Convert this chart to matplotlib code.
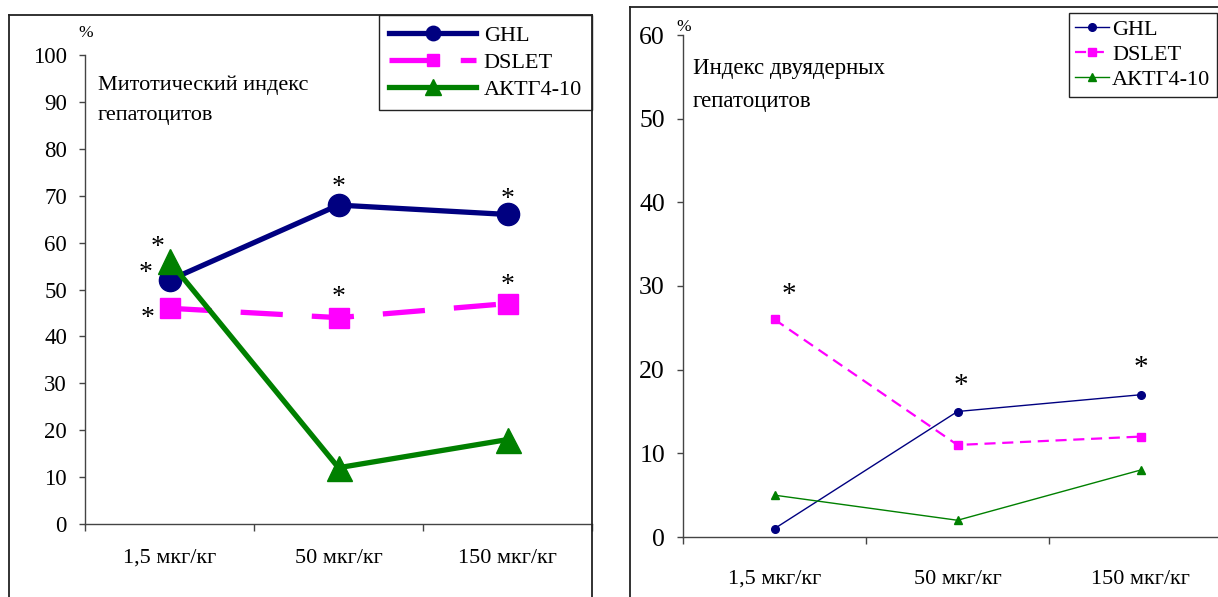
import matplotlib
matplotlib.use('Agg')
import matplotlib.pyplot as plt
from matplotlib.lines import Line2D

plt.rcParams['font.family'] = ['Liberation Serif', 'DejaVu Serif']

# дозы препаратов
doses = ['1,5 мкг/кг', '50 мкг/кг', '150 мкг/кг']
series = ['GHL', 'DSLET', 'АКТГ4-10']
colors = ['#000080', '#FF00FF', '#008000']

# митотический индекс, %
mit_ghl = [52, 68, 66]
mit_dslet = [46, 44, 47]
mit_aktg = [56, 12, 18]

# индекс двуядерных гепатоцитов, %
bin_ghl = [1, 15, 17]
bin_dslet = [26, 11, 12]
bin_aktg = [5, 2, 8]

# звездочки (достоверность): (ряд, индекс дозы)
mit_stars = [('GHL', 0), ('АКТГ4-10', 0), ('DSLET', 0), ('GHL', 1), ('DSLET', 1), ('GHL', 2), ('DSLET', 2)]
bin_stars = [('DSLET', 0), ('GHL', 1), ('GHL', 2)]

W, H = 1218, 597
fig = plt.figure(figsize=(W / 100, H / 100), dpi=100)

def fx(px):
    return px / W

def fy(py):
    return 1 - py / H

# рамки двух диаграмм
def frame(x0, y0, x1, y1):
    for xs, ys in [((x0, x1), (y0, y0)), ((x0, x0), (y0, y1)), ((x1, x1), (y0, y1))]:
        fig.add_artist(Line2D([fx(xs[0]), fx(xs[1])], [fy(ys[0]), fy(ys[1])],
                              transform=fig.transFigure, color='#222222', lw=1.3))

frame(9, 15, 592, 600)
frame(630, 7, 1240, 600)

def setup(ax, ymax, step, xpad, ysize):
    x = list(range(len(doses)))
    ax.set_xlim(-0.5, len(doses) - 0.5)
    ax.set_ylim(0, ymax)
    for s in ['top', 'right']:
        ax.spines[s].set_visible(False)
    for s in ['left', 'bottom']:
        ax.spines[s].set_color('#444444')
        ax.spines[s].set_linewidth(1.0)
    ax.set_yticks(range(0, ymax + 1, step))
    ax.tick_params(axis='y', direction='out', length=4, width=1.0, color='#444444',
                   labelsize=ysize, pad=9)
    ax.set_xticks(x)
    ax.set_xticklabels(doses)
    ax.tick_params(axis='x', which='major', length=0, labelsize=16, pad=xpad)
    ax.set_xticks([-0.5, 0.5, 1.5, 2.5], minor=True)
    ax.tick_params(axis='x', which='minor', direction='out', length=5, width=1.0, color='#444444')
    ax.set_facecolor('none')
    return x

# левая диаграмма: митотический индекс
ax1 = fig.add_axes([fx(85), 1 - 524 / H, fx(592 - 85), (524 - 55) / H])
x = setup(ax1, 100, 10, 18, 16.5)
vals1 = {'GHL': mit_ghl, 'DSLET': mit_dslet, 'АКТГ4-10': mit_aktg}
ax1.plot(x, mit_ghl, color=colors[0], lw=3.8, marker='o', ms=16, label=series[0], zorder=3)
ax1.plot(x, mit_dslet, color=colors[1], lw=3.8, marker='s', ms=14, dashes=(8, 5.5),
         label=series[1], zorder=2)
ax1.plot(x, mit_aktg, color=colors[2], lw=3.8, marker='^', ms=18, label=series[2], zorder=4)

mit_off = {('GHL', 0): (-0.14, 1.5), ('АКТГ4-10', 0): (-0.07, 2.9), ('DSLET', 0): (-0.13, -2.2),
           ('GHL', 1): (0.0, 3.7), ('DSLET', 1): (0.0, 4.3), ('GHL', 2): (0.0, 3.2),
           ('DSLET', 2): (0.0, 3.9)}
for name, i in mit_stars:
    dx, dy = mit_off[(name, i)]
    ax1.text(i + dx, vals1[name][i] + dy, '*', fontsize=20, ha='center', va='center', zorder=5)

ax1.text(0.025, 0.956, 'Митотический индекс\nгепатоцитов', transform=ax1.transAxes,
         fontsize=16, va='top', ha='left', linespacing=1.75)
fig.text(fx(86), fy(33), '%', fontsize=12.5, ha='center', va='center')

leg1 = ax1.legend(loc='upper right', bbox_to_anchor=(fx(592), fy(15)), bbox_transform=fig.transFigure,
                  fancybox=False, edgecolor='#222222', framealpha=1, fontsize=16,
                  handlelength=3.9, handletextpad=0.35, borderpad=0.45, labelspacing=0.3,
                  borderaxespad=0, markerscale=0.65)
leg1.get_frame().set_linewidth(1.0)

# правая диаграмма: двуядерные гепатоциты
ax2 = fig.add_axes([fx(683), 1 - 537 / H, fx(1232 - 683), (537 - 35) / H])
x = setup(ax2, 60, 10, 23.5, 18.5)
vals2 = {'GHL': bin_ghl, 'DSLET': bin_dslet, 'АКТГ4-10': bin_aktg}
ax2.plot(x, bin_ghl, color=colors[0], lw=1.0, marker='o', ms=5.5, label=series[0], zorder=3)
ax2.plot(x, bin_dslet, color=colors[1], lw=1.6, marker='s', ms=5.5, dashes=(5, 3),
         label=series[1], zorder=2)
ax2.plot(x, bin_aktg, color=colors[2], lw=1.0, marker='^', ms=6, label=series[2], zorder=4)

bin_off = {('DSLET', 0): (0.08, 2.9), ('GHL', 1): (0.02, 3.0), ('GHL', 2): (0.0, 3.2)}
for name, i in bin_stars:
    dx, dy = bin_off[(name, i)]
    ax2.text(i + dx, vals2[name][i] + dy, '*', fontsize=21, ha='center', va='center', zorder=5)

ax2.text(0.018, 0.955, 'Индекс двуядерных\nгепатоцитов', transform=ax2.transAxes,
         fontsize=16.5, va='top', ha='left', linespacing=1.75)
fig.text(fx(684), fy(27), '%', fontsize=12.5, ha='center', va='center')

leg2 = ax2.legend(loc='upper right', bbox_to_anchor=(fx(1217), fy(13)), bbox_transform=fig.transFigure,
                  fancybox=False, edgecolor='#222222', framealpha=1, fontsize=16,
                  handlelength=1.5, handletextpad=0.15, borderpad=0.3, labelspacing=0.2,
                  borderaxespad=0)
leg2.get_frame().set_linewidth(1.0)

fig.savefig('out.png', dpi=100)
